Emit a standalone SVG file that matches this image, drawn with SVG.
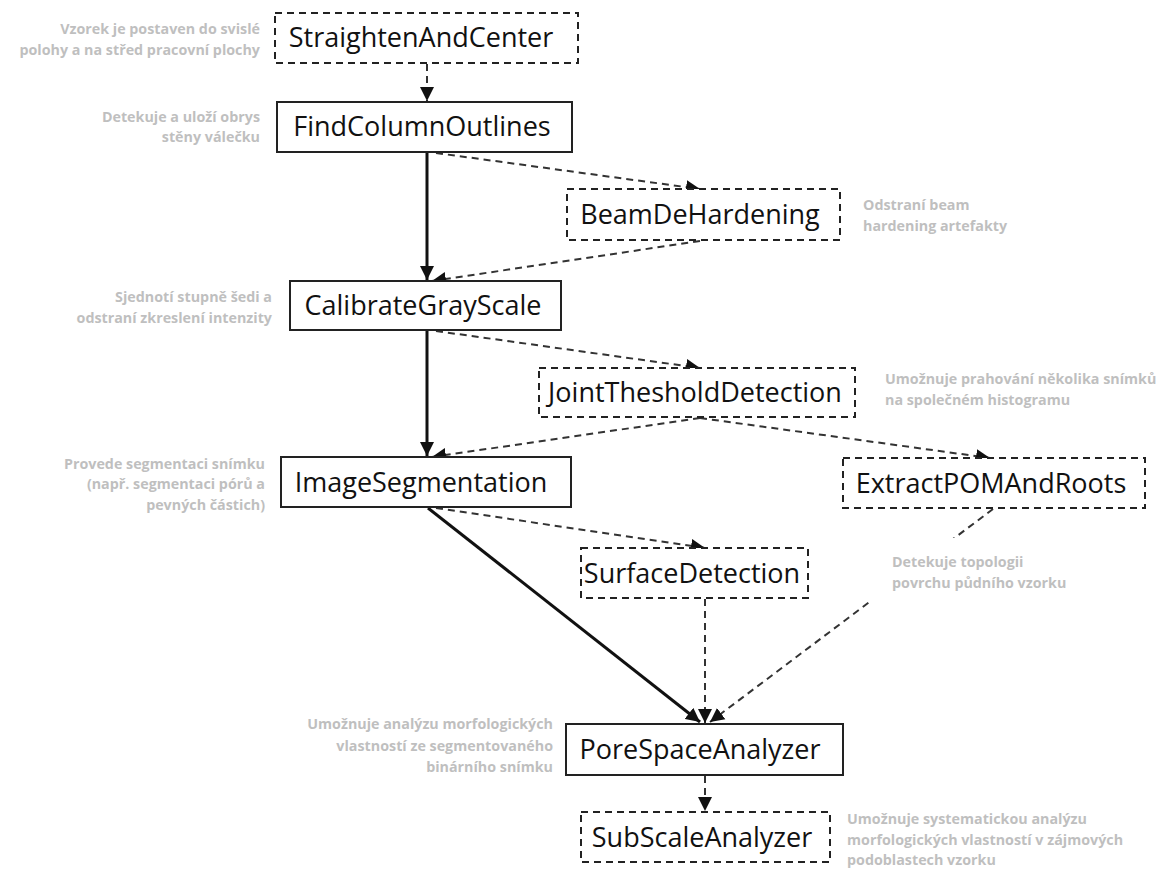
<svg xmlns="http://www.w3.org/2000/svg" width="1173" height="870" viewBox="0 0 1173 870">
<style>
.box{fill:#fff;stroke:#222;stroke-width:2}
.dbox{fill:#fff;stroke:#222;stroke-width:2;stroke-dasharray:7 5}
.lbl{font-family:"Open Sans","Noto Sans",sans-serif;font-size:27px;fill:#111;text-anchor:middle}
.note{font-family:"Open Sans","Noto Sans",sans-serif;font-size:14.3px;font-weight:bold;fill:#bfbfbf}
.r{text-anchor:end}
.solid{fill:none;stroke:#111;stroke-width:3}
.dash{fill:none;stroke:#333;stroke-width:2;stroke-dasharray:7 5}
</style>
<defs>
<marker id="ah" markerUnits="userSpaceOnUse" markerWidth="15" markerHeight="15" refX="14" refY="7" orient="auto" viewBox="0 0 15 14">
<path d="M0,0 L14,7 L0,14 z" fill="#111"/>
</marker>
</defs>
<rect width="1173" height="870" fill="#fff"/>

<g id="notes">
<text class="note r" x="260" y="34">Vzorek je postaven do svislé</text>
<text class="note r" x="260" y="55">polohy a na střed pracovní plochy</text>
<text class="note r" x="260" y="122">Detekuje a uloží obrys</text>
<text class="note r" x="260" y="142">stěny válečku</text>
<text class="note" x="863" y="210">Odstraní beam</text>
<text class="note" x="863" y="231">hardening artefakty</text>
<text class="note r" x="272" y="302">Sjednotí stupně šedi a</text>
<text class="note r" x="272" y="323">odstraní zkreslení intenzity</text>
<text class="note" x="885" y="384">Umožnuje prahování několika snímků</text>
<text class="note" x="885" y="405">na společném histogramu</text>
<text class="note r" x="265" y="469">Provede segmentaci snímku</text>
<text class="note r" x="265" y="489">(např. segmentaci pórů a</text>
<text class="note r" x="265" y="510">pevných částich)</text>
<text class="note r" x="553" y="729">Umožnuje analýzu morfologických</text>
<text class="note r" x="553" y="751">vlastností ze segmentovaného</text>
<text class="note r" x="553" y="772">binárního snímku</text>
<text class="note" x="847" y="824">Umožnuje systematickou analýzu</text>
<text class="note" x="847" y="845">morfologických vlastností v zájmových</text>
<text class="note" x="847" y="865">podoblastech vzorku</text>
</g>

<g id="connectors">
<line class="dash" x1="427" y1="64" x2="427" y2="101" marker-end="url(#ah)"/>
<line class="solid" x1="427" y1="153" x2="427" y2="280" marker-end="url(#ah)"/>
<line class="dash" x1="436" y1="153" x2="700" y2="189" marker-end="url(#ah)"/>
<line class="dash" x1="700" y1="241" x2="432" y2="281" marker-end="url(#ah)"/>
<line class="solid" x1="427" y1="331" x2="427" y2="456" marker-end="url(#ah)"/>
<line class="dash" x1="436" y1="331" x2="700" y2="368" marker-end="url(#ah)"/>
<line class="dash" x1="700" y1="418" x2="432" y2="457" marker-end="url(#ah)"/>
<line class="dash" x1="700" y1="418" x2="990" y2="458" marker-end="url(#ah)"/>
<line class="dash" x1="436" y1="508" x2="705" y2="548" marker-end="url(#ah)"/>
<line class="solid" x1="428" y1="508" x2="700" y2="722" marker-end="url(#ah)"/>
<line class="dash" x1="705" y1="599" x2="705" y2="723" marker-end="url(#ah)"/>
<line class="dash" x1="993" y1="509" x2="710" y2="722" marker-end="url(#ah)"/>
<line class="dash" x1="705" y1="776" x2="705" y2="811" marker-end="url(#ah)"/>
</g>

<g id="note-topology">
<rect x="866" y="538" width="215" height="64" fill="#fff"/>
<text class="note" x="892" y="567">Detekuje topologii</text>
<text class="note" x="892" y="588">povrchu půdního vzorku</text>
</g>

<g id="n-straighten"><rect class="dbox" x="275" y="13" width="303" height="50"/><text class="lbl" x="421" y="47">StraightenAndCenter</text></g>
<g id="n-findcolumn"><rect class="box" x="277" y="102" width="295" height="50"/><text class="lbl" x="422" y="136">FindColumnOutlines</text></g>
<g id="n-beam"><rect class="dbox" x="567" y="189" width="273" height="51"/><text class="lbl" x="700" y="224">BeamDeHardening</text></g>
<g id="n-calibrate"><rect class="box" x="290" y="281" width="271" height="49"/><text class="lbl" x="423" y="315">CalibrateGrayScale</text></g>
<g id="n-joint"><rect class="dbox" x="539" y="368" width="316" height="49"/><text class="lbl" x="695" y="402">JointThesholdDetection</text></g>
<g id="n-imageseg"><rect class="box" x="281" y="457" width="290" height="50"/><text class="lbl" x="421" y="492">ImageSegmentation</text></g>
<g id="n-extract"><rect class="dbox" x="843" y="458" width="302" height="50"/><text class="lbl" x="991" y="493">ExtractPOMAndRoots</text></g>
<g id="n-surface"><rect class="dbox" x="581" y="548" width="227" height="50"/><text class="lbl" x="692" y="583">SurfaceDetection</text></g>
<g id="n-porespace"><rect class="box" x="566" y="724" width="277" height="51"/><text class="lbl" x="700" y="759">PoreSpaceAnalyzer</text></g>
<g id="n-subscale"><rect class="dbox" x="581" y="812" width="249" height="50"/><text class="lbl" x="702" y="847">SubScaleAnalyzer</text></g>
</svg>
